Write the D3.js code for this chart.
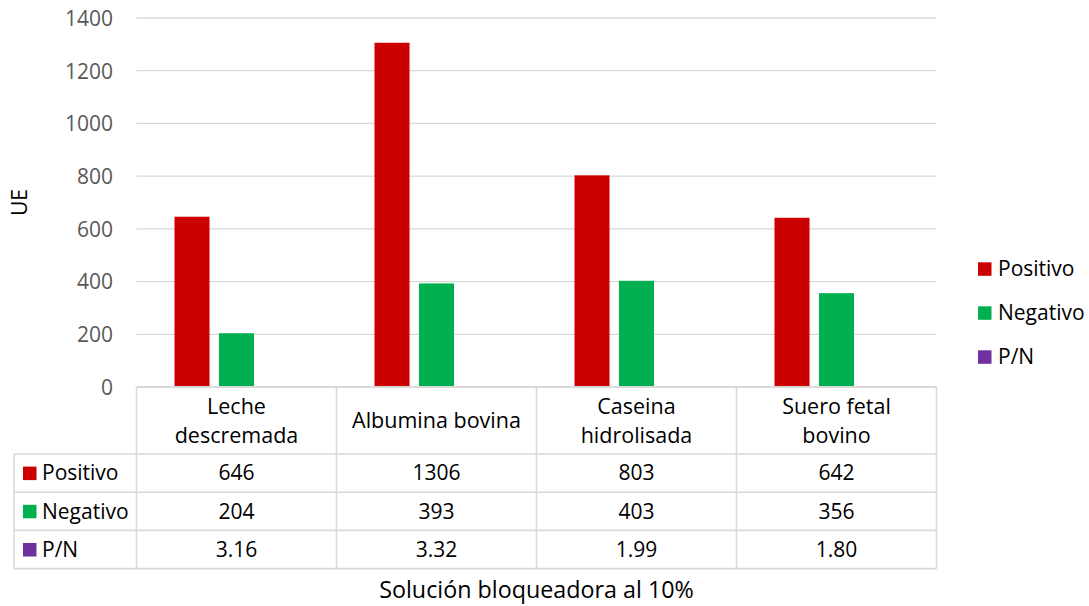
<!DOCTYPE html>
<html>
<head>
<meta charset="utf-8">
<script src="https://cdn.jsdelivr.net/npm/d3@7"></script>
<style>
  html, body { margin: 0; padding: 0; background: #fff; }
  svg { display: block; font-family: "Open Sans", "Liberation Sans", sans-serif; }
</style>
</head>
<body>
<svg id="chart" width="1089" height="606"></svg>
<script>
// Category labels (split into the lines shown in the table header)
const categories = ["Leche descremada", "Albumina bovina", "Caseina hidrolisada", "Suero fetal bovino"];
const categoryLines = [["Leche", "descremada"], ["Albumina bovina"], ["Caseina", "hidrolisada"], ["Suero fetal", "bovino"]];
const seriesNames = ["Positivo", "Negativo", "P/N"];
const seriesColors = ["#CC0000", "#00B050", "#7030A0"];
const positivo = [646, 1306, 803, 642];
const negativo = [204, 393, 403, 356];
const pn = [3.16, 3.32, 1.99, 1.80];
const pnLabels = ["3.16", "3.32", "1.99", "1.80"];
const yTicks = [0, 200, 400, 600, 800, 1000, 1200, 1400];
const yTitle = "UE";
const xTitle = "Solución bloqueadora al 10%";

const seriesValues = [positivo, negativo, pn];
const seriesLabels = [positivo.map(String), negativo.map(String), pnLabels];

const svg = d3.select("#chart");
const plot = { left: 136.5, right: 936.5, top: 18, bottom: 387 };
const gridColor = "#d9d9d9";
const textSize = 21;

const x0 = d3.scaleBand().domain(categories).range([plot.left, plot.right]).paddingInner(0).paddingOuter(0);
const x1 = d3.scaleBand().domain(seriesNames).range([0, x0.bandwidth()]).paddingInner(0.213).paddingOuter(0.854);
const y = d3.scaleLinear().domain([0, 1400]).range([plot.bottom, plot.top]);

// Horizontal gridlines
svg.append("g").selectAll("line").data(yTicks.filter(d => d > 0)).join("line")
  .attr("x1", plot.left).attr("x2", plot.right)
  .attr("y1", d => y(d)).attr("y2", d => y(d))
  .attr("stroke", gridColor).attr("stroke-width", 1.3);

// Y axis tick labels
const yAxis = d3.axisLeft(y).tickValues(yTicks).tickFormat(d3.format("d")).tickSize(0).tickPadding(0);
const yg = svg.append("g").attr("transform", `translate(113,0)`).call(yAxis);
yg.select(".domain").remove();
yg.selectAll("text").attr("fill", "#595959").attr("font-size", textSize)
  .attr("font-family", "'Open Sans', sans-serif").attr("dy", "0.35em");

// Bars
const groups = svg.append("g").selectAll("g").data(categories).join("g")
  .attr("transform", d => `translate(${x0(d)},0)`);
groups.selectAll("rect")
  .data((c, i) => seriesNames.map((s, k) => ({ s, v: seriesValues[k][i], color: seriesColors[k] })))
  .join("rect")
  .attr("x", d => x1(d.s))
  .attr("width", x1.bandwidth())
  .attr("y", d => y(d.v))
  .attr("height", d => y(0) - y(d.v))
  .attr("fill", d => d.color);

// Y axis title
svg.append("text").attr("transform", `translate(20,${(plot.top + plot.bottom) / 2}) rotate(-90)`)
  .attr("text-anchor", "middle").attr("dy", "0.35em").attr("font-size", 21).attr("fill", "#000").text(yTitle);

// Data table
const headerBottom = 454;
const rowH = 38.2;
const tableLeft = 14;
const rowTops = seriesNames.map((s, k) => headerBottom + k * rowH);
const tableBottom = headerBottom + seriesNames.length * rowH;
const tg = svg.append("g").attr("stroke", gridColor).attr("stroke-width", 1.6);

// horizontal rules (the top one doubles as the category axis line)
tg.append("line").attr("x1", plot.left).attr("x2", plot.right).attr("y1", plot.bottom).attr("y2", plot.bottom)
  .attr("stroke-width", 2);
[...rowTops, tableBottom].forEach(yy => {
  tg.append("line").attr("x1", tableLeft).attr("x2", plot.right).attr("y1", yy).attr("y2", yy);
});
// vertical rules
const colEdges = categories.map(c => x0(c)).concat([plot.right]);
colEdges.forEach(xx => {
  tg.append("line").attr("x1", xx).attr("x2", xx).attr("y1", plot.bottom).attr("y2", tableBottom);
});
tg.append("line").attr("x1", tableLeft).attr("x2", tableLeft).attr("y1", headerBottom).attr("y2", tableBottom);

// header text
const headerMid = (plot.bottom + headerBottom) / 2;
categories.forEach((c, i) => {
  const lines = categoryLines[i];
  const lh = 29;
  const t = svg.append("text").attr("text-anchor", "middle").attr("font-size", 21.5).attr("fill", "#000");
  lines.forEach((ln, j) => {
    t.append("tspan").attr("x", x0(c) + x0.bandwidth() / 2)
      .attr("y", headerMid + (j - (lines.length - 1) / 2) * lh).attr("dy", "0.35em").text(ln);
  });
});

// table rows
seriesNames.forEach((s, k) => {
  const mid = rowTops[k] + rowH / 2;
  svg.append("rect").attr("x", 23).attr("y", mid - 6.5).attr("width", 13.5).attr("height", 13.5).attr("fill", seriesColors[k]);
  svg.append("text").attr("x", 42).attr("y", mid).attr("dy", "0.35em").attr("font-size", textSize).attr("fill", "#000").text(s);
  categories.forEach((c, i) => {
    svg.append("text").attr("x", x0(c) + x0.bandwidth() / 2).attr("y", mid).attr("dy", "0.35em")
      .attr("text-anchor", "middle").attr("font-size", textSize).attr("fill", "#000").text(seriesLabels[k][i]);
  });
});

// X axis title
svg.append("text").attr("x", (plot.left + plot.right) / 2).attr("y", 590).attr("dy", "0.35em")
  .attr("text-anchor", "middle").attr("font-size", 23.3).attr("fill", "#000").text(xTitle);

// Legend
const legend = svg.append("g").selectAll("g").data(seriesNames).join("g")
  .attr("transform", (d, k) => `translate(978,${269 + k * 44})`);
legend.append("rect").attr("x", 0).attr("y", -6.7).attr("width", 13.5).attr("height", 13.5)
  .attr("fill", (d, k) => seriesColors[k]);
legend.append("text").attr("x", 20).attr("y", 0).attr("dy", "0.35em").attr("font-size", textSize).attr("fill", "#000").text(d => d);
</script>
</body>
</html>
